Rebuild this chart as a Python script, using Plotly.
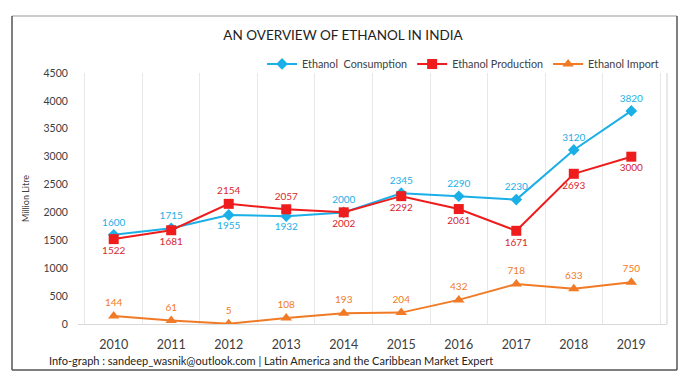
import plotly.graph_objects as go

years = ["2010", "2011", "2012", "2013", "2014", "2015", "2016", "2017", "2018", "2019"]
consumption = [1600, 1715, 1955, 1932, 2000, 2345, 2290, 2230, 3120, 3820]
production = [1522, 1681, 2154, 2057, 2002, 2292, 2061, 1671, 2693, 3000]
imports = [144, 61, 5, 108, 193, 204, 432, 718, 633, 750]

cons_pos = ["top center", "top center", "bottom center", "bottom center", "top center",
            "top center", "top center", "top center", "top center", "top center"]
prod_pos = ["bottom center", "bottom center", "top center", "top center", "bottom center",
            "bottom center", "bottom center", "bottom center", "bottom center", "bottom center"]

C_BLUE = "#1AAFE6"
C_RED = "#EE1C1C"
C_ORANGE = "#F07A25"
FONT = "Lato"

fig = go.Figure()
fig.add_trace(go.Scatter(
    x=years, y=consumption, name="Ethanol  Consumption", mode="lines+markers+text",
    line=dict(color=C_BLUE, width=2), marker=dict(symbol="diamond", size=9, color=C_BLUE),
    text=[str(v) for v in consumption], textposition=cons_pos,
    textfont=dict(color=C_BLUE, size=10, family=FONT)))
fig.add_trace(go.Scatter(
    x=years, y=production, name="Ethanol Production", mode="lines+markers+text",
    line=dict(color=C_RED, width=2), marker=dict(symbol="square", size=10, color=C_RED),
    text=[str(v) for v in production], textposition=prod_pos,
    textfont=dict(color="#D9262E", size=10, family=FONT)))
fig.add_trace(go.Scatter(
    x=years, y=imports, name="Ethanol Import", mode="lines+markers+text",
    line=dict(color=C_ORANGE, width=2), marker=dict(symbol="triangle-up", size=10, color=C_ORANGE),
    text=[str(v) for v in imports], textposition="top center",
    textfont=dict(color=C_ORANGE, size=10, family=FONT)))

fig.update_layout(
    width=686, height=379,
    margin=dict(l=78, r=19, t=73, b=55),
    paper_bgcolor="white", plot_bgcolor="white",
    font=dict(family=FONT, color="#404040"),
    title=dict(text="AN OVERVIEW OF ETHANOL IN INDIA", x=0.5, xanchor="center",
               y=1 - 35 / 379, yanchor="middle", font=dict(size=13.5, color="#222222", family=FONT)),
    showlegend=True,
    legend=dict(orientation="h", x=0.995, xanchor="right", y=1.036, yanchor="middle",
                font=dict(size=10.8, color="#404040", family=FONT), itemwidth=30,
                bgcolor="rgba(0,0,0,0)", tracegroupgap=0),
    xaxis=dict(type="category", tickson="boundaries", showgrid=True, gridcolor="#E8E8E8",
               gridwidth=1, showline=True, linecolor="#D9D9D9", ticks="", ticklabelstandoff=9,
               tickfont=dict(size=12.5, color="#404040", family=FONT),
               zeroline=False, mirror=False),
    yaxis=dict(range=[0, 4500], tickvals=list(range(0, 4501, 500)), showgrid=False,
               zeroline=False, showline=False, ticks="outside", ticklen=7,
               tickcolor="rgba(0,0,0,0)", tickfont=dict(size=10.5, color="#404040", family=FONT),
               title=dict(text="Million Litre", font=dict(size=9, color="#404040", family=FONT),
                          standoff=12)),
)

# right border line of plot area
fig.add_shape(type="line", xref="x domain", yref="y domain", x0=1, x1=1, y0=0, y1=1,
              line=dict(color="#D0D0D0", width=1))

# outer frame (pixel offsets relative to plot area: width 589, height 251)
PW, PH = 589, 251
def px(v):
    return v / PW
def py(v):
    return v / PH

fig.add_shape(type="line", xref="paper", yref="paper", x0=px(-66), x1=px(599),
              y0=1 + py(57), y1=1 + py(57), line=dict(color="#BBBBBB", width=1.5))
fig.add_shape(type="line", xref="paper", yref="paper", x0=px(-66), x1=px(-66),
              y0=1 + py(57), y1=py(-46), line=dict(color="#555555", width=1.5))
fig.add_shape(type="line", xref="paper", yref="paper", x0=px(599), x1=px(599),
              y0=1 + py(57), y1=py(-46), line=dict(color="#555555", width=1.5))
fig.add_shape(type="line", xref="paper", yref="paper", x0=px(-66), x1=px(599),
              y0=py(-46), y1=py(-46), line=dict(color="#555555", width=1.5))

fig.add_annotation(text="Info-graph : sandeep_wasnik@outlook.com | Latin America and the Caribbean Market Expert",
                   xref="paper", yref="paper", x=px(-31), y=py(-36), xanchor="left", yanchor="middle",
                   showarrow=False, font=dict(size=11, color="#222222", family=FONT))

fig.write_html("out.html", config={"displayModeBar": False},
               post_script="document.body.style.margin='0';")
